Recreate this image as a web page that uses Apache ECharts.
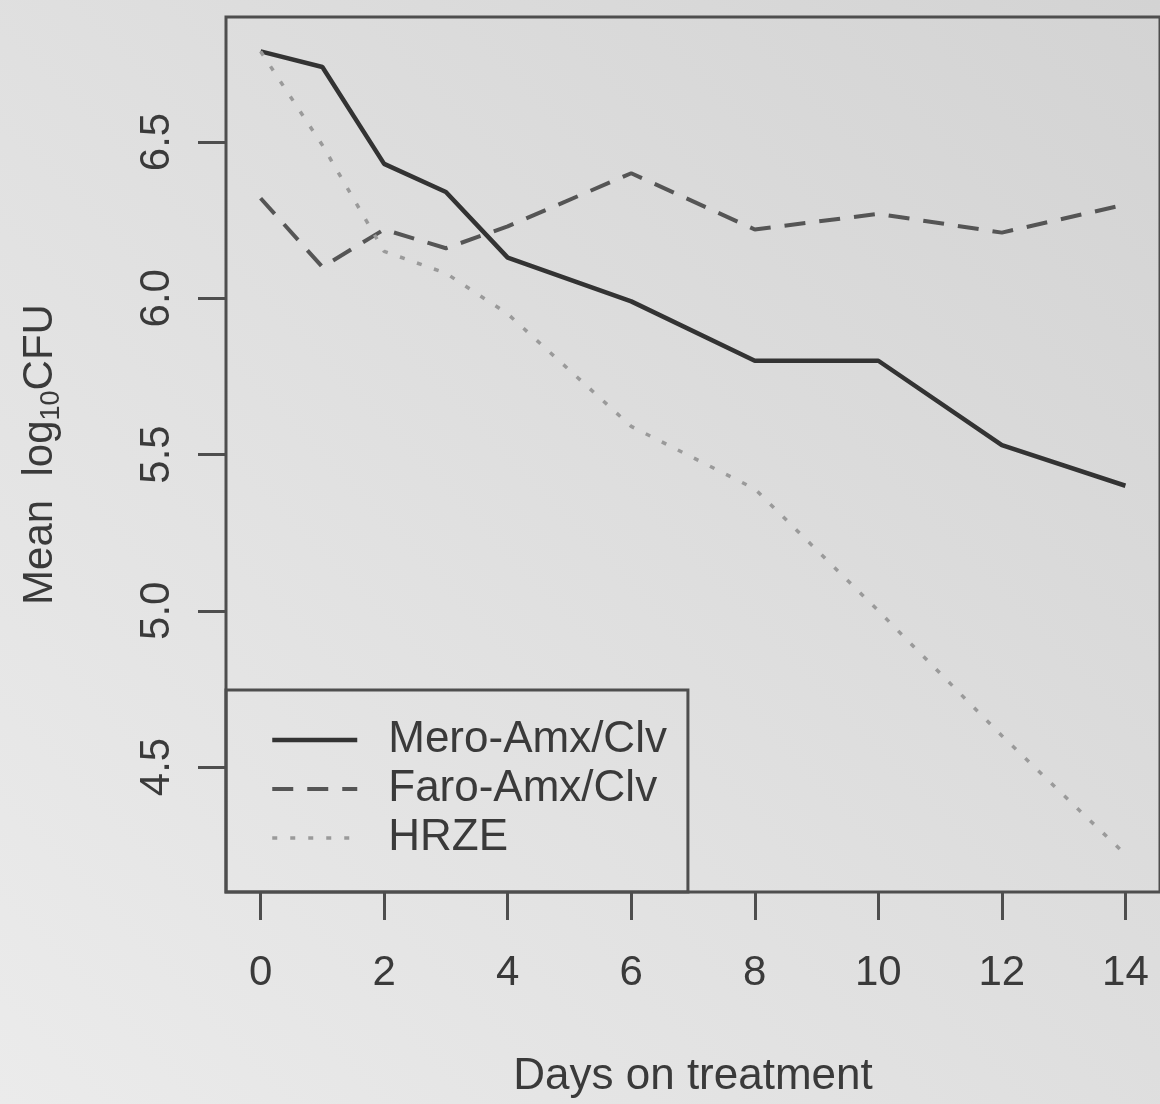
<!DOCTYPE html>
<html>
<head>
<meta charset="utf-8">
<script src="https://cdn.jsdelivr.net/npm/echarts@6/dist/echarts.min.js"></script>
<style>
html,body{margin:0;padding:0;background:#e2e2e2;}
#chart{width:1160px;height:1104px;}
</style>
</head>
<body>
<div id="chart"></div>
<script>
// Data
const days = [0, 1, 2, 3, 4, 6, 8, 10, 12, 14];
const meroAmxClv = [6.79, 6.74, 6.43, 6.34, 6.13, 5.99, 5.80, 5.80, 5.53, 5.40];
const faroAmxClv = [6.32, 6.10, 6.22, 6.16, 6.23, 6.40, 6.22, 6.27, 6.21, 6.30];
const hrze = [6.79, 6.49, 6.15, 6.08, 5.95, 5.59, 5.39, 5.00, 4.60, 4.22];
const xTicks = [0, 2, 4, 6, 8, 10, 12, 14];
const yTicks = [4.5, 5.0, 5.5, 6.0, 6.5];
const seriesNames = ['Mero-Amx/Clv', 'Faro-Amx/Clv', 'HRZE'];

const pair = (xs, ys) => xs.map((x, i) => [x, ys[i]]);
const FONT = '"Liberation Sans", Arial, Helvetica, sans-serif';
const INK = '#3a3a3a';
const BOX = '#4e4e4e';
const styles = [
  {color: '#333333', width: 4.5, type: 'solid'},
  {color: '#555555', width: 4, type: [21, 14]},
  {color: '#9a9a9a', width: 3.5, type: [5, 13]}
];

const chart = echarts.init(document.getElementById('chart'), null, {renderer: 'canvas'});
chart.setOption({
  animation: false,
  backgroundColor: {
    type: 'linear', x: 1, y: 0, x2: 0, y2: 1,
    colorStops: [{offset: 0, color: '#d3d3d3'}, {offset: 1, color: '#ebebeb'}]
  },
  grid: {
    left: 226, top: 17, width: 937, height: 875,
    show: true, borderColor: BOX, borderWidth: 3, backgroundColor: 'transparent'
  },
  legend: {
    orient: 'vertical',
    left: 226, top: 690,
    padding: [28, 21, 32, 44],
    itemWidth: 85, itemHeight: 20, itemGap: 5,
    borderColor: BOX, borderWidth: 3, borderRadius: 0,
    backgroundColor: 'transparent',
    itemStyle: {opacity: 0},
    data: seriesNames.map((n, i) => ({name: n, lineStyle: Object.assign({}, styles[i])})),
    textStyle: {
      fontFamily: FONT, fontSize: 44, color: INK, lineHeight: 44,
      padding: [0, 0, 0, 26]
    },
    selectedMode: false
  },
  xAxis: {
    type: 'value', min: -0.56, max: 14.56,
    axisLine: {show: false, onZero: false},
    splitLine: {show: false},
    axisTick: {show: true, customValues: xTicks, length: 28, lineStyle: {color: BOX, width: 3}},
    axisLabel: {customValues: xTicks, margin: 60, fontFamily: FONT, fontSize: 42, color: INK},
    name: 'Days on treatment', nameLocation: 'middle', nameGap: 163,
    nameMoveOverlap: false,
    nameTextStyle: {fontFamily: FONT, fontSize: 44, color: INK}
  },
  yAxis: {
    type: 'value', min: 4.1, max: 6.9,
    axisLine: {show: false, onZero: false},
    splitLine: {show: false},
    axisTick: {show: true, customValues: yTicks, length: 28, lineStyle: {color: BOX, width: 3}},
    axisLabel: {
      customValues: yTicks, margin: 48, rotate: 90,
      fontFamily: FONT, fontSize: 42, color: INK,
      formatter: v => v.toFixed(1)
    },
    name: 'Mean  log{sub|10}CFU', nameLocation: 'middle', nameGap: 161,
    nameMoveOverlap: false,
    nameTextStyle: {
      fontFamily: FONT, fontSize: 42, color: INK, lineHeight: 50,
      rich: {sub: {fontFamily: FONT, fontSize: 27, color: INK, verticalAlign: 'bottom', lineHeight: 50}}
    }
  },
  series: seriesNames.map((n, i) => ({
    name: n, type: 'line',
    data: pair(days, [meroAmxClv, faroAmxClv, hrze][i]),
    symbol: 'none', lineStyle: styles[i],
    itemStyle: {color: styles[i].color}, z: 3
  }))
});
</script>
</body>
</html>
